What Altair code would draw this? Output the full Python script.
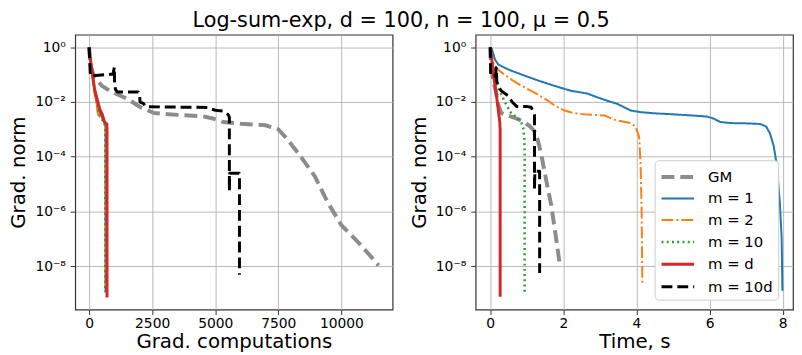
import altair as alt
import pandas as pd

series = ["GM", "m = 1", "m = 2", "m = 10", "m = d", "m = 10d"]
colors = ["#8c8c8c", "#1f77b4", "#ff7f0e", "#2ca02c", "#d62728", "#000000"]
dashes = [[13, 6], [1, 0], [12, 3, 2, 3], [2, 3.3], [1, 0], [11, 5]]
widths = [4, 2, 2, 2.5, 3, 3]

# ---------- Left panel: gradient computations ----------
gc_gm = [0, 60, 220, 500, 810, 1200, 1520, 2040, 2570, 3500, 4500, 4950, 5300, 6000, 7000, 7500, 7800, 8290, 8945, 9450, 10000, 10770, 11480]
gn_gm = [1.0, 0.2, 0.0776, 0.0398, 0.0257, 0.0178, 0.0129, 6.46e-3, 3.98e-3, 3.39e-3, 3.02e-3, 2.45e-3, 1.86e-3, 1.62e-3, 1.41e-3, 1.0e-3, 5.0e-4, 1.35e-4, 1.95e-5, 2.19e-6, 3.16e-7, 5.89e-8, 1.07e-8]

gc_m1 = [0, 30, 90, 210, 400, 500, 600, 640, 650, 650]
gn_m1 = [1.0, 0.501, 0.2, 0.0251, 4.47e-3, 2.82e-3, 1.78e-3, 1.41e-3, 1.0e-3, 1.12e-9]

gc_m2 = [0, 30, 90, 200, 350, 480, 600, 640, 660, 660]
gn_m2 = [1.0, 0.501, 0.2, 0.0251, 3.55e-3, 2.51e-3, 1.78e-3, 1.41e-3, 1.0e-3, 1.58e-9]

gc_m10 = [0, 30, 90, 210, 380, 500, 600, 630, 640, 640]
gn_m10 = [1.0, 0.501, 0.2, 0.0251, 3.98e-3, 2.51e-3, 1.66e-3, 1.41e-3, 1.0e-3, 1.12e-9]

gc_md = [0, 30, 90, 222, 418, 520, 613, 700, 710, 710]
gn_md = [1.0, 0.501, 0.204, 0.0282, 5.62e-3, 3.55e-3, 1.86e-3, 1.58e-3, 1.0e-3, 7.1e-10]

gc_m10d = [0, 50, 650, 950, 1000, 1010, 1050, 1130, 1950, 2000, 2020, 2150, 2250, 4700, 5000, 5300, 5500, 5560, 5560, 5575, 5950, 5960, 5960]
gn_m10d = [1.0, 0.0891, 0.1, 0.105, 0.191, 0.0447, 0.0282, 0.0234, 0.0234, 0.02, 0.01, 8.9e-3, 6.76e-3, 6.31e-3, 5.01e-3, 4.68e-3, 3.55e-3, 2.82e-3, 5.62e-6, 2.51e-5, 2.51e-5, 1.78e-5, 4.9e-9]

# ---------- Right panel: time, s ----------
t_gm = [0, 0.02, 0.08, 0.15, 0.22, 0.3, 0.5, 0.75, 0.95, 1.08, 1.2, 1.3, 1.4, 1.49, 1.67, 1.78, 1.89]
tn_gm = [1.0, 0.251, 0.0631, 0.0251, 7.94e-3, 3.98e-3, 3.16e-3, 2.4e-3, 1.78e-3, 1.32e-3, 8.9e-4, 4.07e-4, 1.12e-4, 2.57e-5, 1.62e-6, 1.58e-7, 1.48e-8]

t_m1 = [0, 0.04, 0.08, 0.13, 0.22, 0.49, 0.85, 1.3, 1.76, 2.21, 2.66, 2.93, 3.2, 3.48, 3.84, 4.11, 4.47, 5.0, 5.5, 5.92, 6.1, 6.29, 6.6, 7.0, 7.38, 7.55, 7.65, 7.75, 7.83, 7.92, 7.97, 7.99]
tn_m1 = [1.0, 0.891, 0.603, 0.355, 0.234, 0.155, 0.102, 0.0617, 0.0389, 0.0257, 0.0204, 0.0148, 0.0112, 8.51e-3, 4.9e-3, 4.27e-3, 3.89e-3, 3.55e-3, 3.24e-3, 2.95e-3, 2.51e-3, 1.86e-3, 1.7e-3, 1.66e-3, 1.58e-3, 1.26e-3, 7.08e-4, 2.51e-4, 5.89e-5, 2.14e-6, 1.0e-7, 1.26e-9]

t_m2 = [0, 0.04, 0.1, 0.26, 0.6, 0.85, 1.2, 1.58, 1.76, 2.03, 2.3, 2.66, 3.12, 3.39, 3.84, 3.98, 4.07, 4.11, 4.14, 4.16]
tn_m2 = [1.0, 0.501, 0.224, 0.135, 0.0631, 0.0398, 0.0224, 0.0112, 7.41e-3, 4.9e-3, 3.89e-3, 3.47e-3, 3.24e-3, 2.24e-3, 1.7e-3, 1.23e-3, 5.37e-4, 5.89e-5, 1.0e-6, 2.14e-9]

t_m10 = [0, 0.05, 0.1, 0.22, 0.4, 0.58, 0.72, 0.85, 0.9, 0.93, 0.94, 0.94]
tn_m10 = [1.0, 0.316, 0.126, 0.0316, 0.01, 3.72e-3, 2.82e-3, 1.78e-3, 1.12e-3, 5.01e-4, 1.0e-4, 1.07e-9]

t_md = [0, 0.04, 0.08, 0.17, 0.22, 0.26, 0.27, 0.27]
tn_md = [1.0, 0.398, 0.117, 0.017, 5.01e-3, 1.86e-3, 1.0e-3, 7.59e-10]

t_m10d = [0, 0.01, 0.15, 0.16, 0.18, 0.25, 0.31, 0.49, 0.6, 0.72, 0.99, 1.12, 1.21, 1.21, 1.22, 1.35, 1.35]
tn_m10d = [1.0, 0.0891, 0.0891, 0.178, 0.0562, 0.0316, 0.0251, 0.017, 0.01, 6.92e-3, 6.92e-3, 6.46e-3, 3.24e-3, 6.46e-6, 2.95e-5, 2.95e-5, 5.62e-9]

left_x = [gc_gm, gc_m1, gc_m2, gc_m10, gc_md, gc_m10d]
left_y = [gn_gm, gn_m1, gn_m2, gn_m10, gn_md, gn_m10d]
right_x = [t_gm, t_m1, t_m2, t_m10, t_md, t_m10d]
right_y = [tn_gm, tn_m1, tn_m2, tn_m10, tn_md, tn_m10d]


def frame(xs, ys):
    rows = []
    for s, xv, yv in zip(series, xs, ys):
        for i, (a, b) in enumerate(zip(xv, yv)):
            rows.append({"series": s, "i": i, "x": a, "y": b})
    return pd.DataFrame(rows)


y_labels = "['10⁰','10⁻²','10⁻⁴','10⁻⁶','10⁻⁸'][round(-log(datum.value)/LN10/2)]"


def panel(df, xtitle, xdom, xvals, legend):
    layers = []
    for s in series:
        layers.append(
            alt.Chart(df)
            .transform_filter(alt.datum.series == s)
            .mark_line(clip=True, strokeJoin="round")
            .encode(
                x=alt.X("x:Q", scale=alt.Scale(domain=xdom, nice=False, zero=False),
                        axis=alt.Axis(values=xvals, title=xtitle, format="d")),
                y=alt.Y("y:Q", scale=alt.Scale(type="log", domain=[2.6e-10, 2.9], nice=False),
                        axis=alt.Axis(values=[1, 1e-2, 1e-4, 1e-6, 1e-8], labelExpr=y_labels,
                                      title="Grad. norm")),
                color=alt.Color("series:N", scale=alt.Scale(domain=series, range=colors), legend=legend),
                strokeDash=alt.StrokeDash("series:N", scale=alt.Scale(domain=series, range=dashes), legend=legend),
                strokeWidth=alt.StrokeWidth("series:N", scale=alt.Scale(type="ordinal", domain=series, range=widths), legend=legend),
                order=alt.Order("i:Q"),
            )
        )
    return alt.layer(*layers).properties(width=321, height=278)


legend = alt.Legend(
    orient="none", legendX=181, legendY=127, title=None,
    symbolType="M-1,0H2.3", symbolSize=400,
    labelFont="DejaVu Sans", labelFontSize=15, labelColor="black",
    labelOffset=25, fillColor="white", strokeColor="#cccccc",
    cornerRadius=4, padding=5, rowPadding=2.7,
)

left = panel(frame(left_x, left_y), "Grad. computations", [-550, 12030], [0, 2500, 5000, 7500, 10000], None)
right = panel(frame(right_x, right_y), "Time, s", [-0.4, 8.28], [0, 2, 4, 6, 8], legend)

chart = (
    alt.hconcat(left, right, spacing=15)
    .resolve_legend(color="independent", strokeDash="independent", strokeWidth="independent")
    .properties(
        padding=0,
        title=alt.TitleParams("Log-sum-exp, d = 100, n = 100, μ = 0.5", font="DejaVu Sans",
                              fontSize=21, fontWeight="normal", color="black", anchor="middle", offset=3),
    )
    .configure_axis(
        labelFont="DejaVu Sans", labelFontSize=14, labelColor="black",
        titleFont="DejaVu Sans", titleFontSize=20, titleFontWeight="normal", titleColor="black",
        tickColor="#333333", tickSize=5, domain=False, grid=True, gridColor="#b0b0b0",
        gridWidth=0.9, labelPadding=2, titlePadding=1,
    )
    .configure_axisY(labelPadding=5, titlePadding=6)
    .configure_view(stroke="#333333", strokeWidth=1.2)
)

chart.save("out.html", embed_options={"renderer": "svg", "actions": False})
